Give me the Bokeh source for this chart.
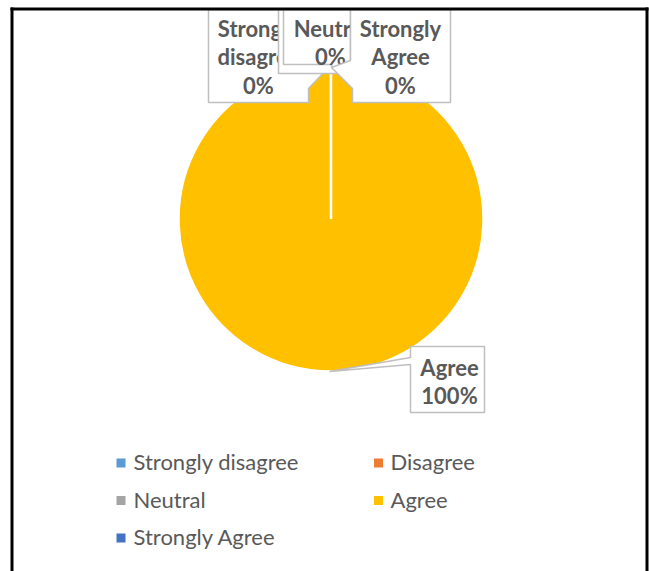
import math
from bokeh.plotting import figure
from bokeh.models import Range1d, ColumnDataSource
from bokeh.core.properties import value
from bokeh.embed import file_html
from bokeh.resources import INLINE

# ---- data ----
categories = ["Strongly disagree", "Disagree", "Neutral", "Agree", "Strongly Agree"]
values = [0, 0, 0, 100, 0]
colors = ["#5B9BD5", "#ED7D31", "#A5A5A5", "#FFC000", "#4472C4"]

# ---- layout helpers (screen px -> data units, 1 unit = 1 px) ----
W, H = 649, 571
TXT = 7.5  # empirical baseline correction for svg text
def X(sx):
    return sx
def Y(sy):
    return H - sy
def YT(sy):
    return H - (sy - TXT)

p = figure(width=W, height=H, x_range=Range1d(0, W), y_range=Range1d(0, H),
           output_backend="svg", toolbar_location=None, min_border=0)
p.axis.visible = False
p.grid.visible = False
p.outline_line_color = None
p.background_fill_color = "white"
p.border_fill_color = "white"

# ---- pie slices (clockwise from 12 o'clock, like Excel) ----
total = float(sum(values))
starts, ends, cols = [], [], []
cum = 0.0
for v, c in zip(values, colors):
    frac = v / total
    s = math.pi / 2 - 2 * math.pi * cum
    cum += frac
    if v <= 0:
        continue  # zero-size slice: nothing to draw
    span = min(2 * math.pi * frac, 2 * math.pi - 1e-3)
    starts.append(s)
    ends.append(s - span)
    cols.append(c)
pie_src = ColumnDataSource(dict(start=starts, end=ends, color=cols))
cx, cy, r = X(330.5), Y(218.5), 152.5
p.wedge(x=cx, y=cy, radius=r, start_angle="start", end_angle="end",
        direction="clock", fill_color="color", line_color="white",
        line_width=2.5, source=pie_src)

# ---- data-label callouts (layout only) ----
TOP = 9
pcts = ["%d%%" % round(v / total * 100) for v in values]
callouts = {
    "Strongly disagree": dict(poly=[(208, TOP), (208, 102), (308, 102), (308, 88), (329, 66), (308, 60), (308, TOP)],
                              cx=258, base=35, show=True),
    "Disagree": dict(poly=[(278, TOP), (278, 73), (345, 73), (345, TOP)], cx=312, base=35, show=False),
    "Neutral": dict(poly=[(283, TOP), (283, 64), (330, 64), (337, 72), (342, 64), (350, 64), (350, TOP)],
                    cx=330, base=35, show=True),
    "Agree": dict(poly=[(410, 346), (484, 346), (484, 412), (410, 412), (410, 364), (329, 371), (410, 357)],
                  cx=449, base=374, show=True),
    "Strongly Agree": dict(poly=[(350, TOP), (350, 60), (331, 67), (352, 88), (352, 102), (450, 102), (450, TOP)],
                           cx=400, base=35, show=True),
}
LINE = 28.5
for cat, pct in zip(categories, pcts):
    c = callouts[cat]
    p.patch([X(a) for a, b in c["poly"]], [Y(b) for a, b in c["poly"]],
            fill_color="white", line_color="#BFBFBF", line_width=1.5)
    if c["show"]:
        lines = cat.split(" ") + [pct]
        p.text(x=[X(c["cx"])] * len(lines),
               y=[YT(c["base"] + i * LINE) for i in range(len(lines))],
               text=lines, text_font=value("Lato"), text_font_style="bold",
               text_font_size="22px", text_color="#595959",
               text_align="center", text_baseline="alphabetic")

# ---- legend (manual, two columns) ----
col_mark = [120.5, 378]
col_text = [133, 390]
row_mark = [462.5, 500, 537.5]
row_base = [468.5, 506, 543.5]
mx, my, tx, ty = [], [], [], []
for i, cat in enumerate(categories):
    rr, cc = divmod(i, 2)
    mx.append(X(col_mark[cc])); my.append(Y(row_mark[rr]))
    tx.append(X(col_text[cc])); ty.append(YT(row_base[rr]))
p.scatter(x=mx, y=my, marker="square", size=9, fill_color=colors, line_color=None)
p.text(x=tx, y=ty, text=categories, text_font=value("Lato"), text_font_size="22px",
       text_color="#595959", text_align="left", text_baseline="alphabetic")

# ---- chart-area border (bottom is cut off in the original) ----
p.multi_line(xs=[[X(11.5), X(11.5)], [X(10), X(648)], [X(646.5), X(646.5)]],
             ys=[[Y(7), Y(600)], [Y(8.5), Y(8.5)], [Y(7), Y(600)]],
             line_color="black", line_width=3)

open("out.html", "w").write(file_html(p, INLINE))
